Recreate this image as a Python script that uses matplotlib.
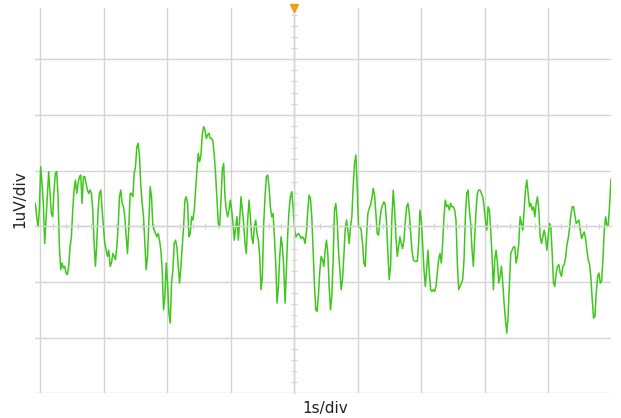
import matplotlib

matplotlib.use("Agg")
import matplotlib.pyplot as plt
import numpy as np
from matplotlib.ticker import MultipleLocator

# scope trace (uV), one sample every ~21 ms
seg_1 = [0.41, 0.17, -0.01, 0.29, 1.07, 0.77, 0.41, -0.31, 0.11, 0.53, 0.98, 0.59,
         0.23, 0.17, 0.65, 0.95, 0.98, 0.53, -0.37, -0.78, -0.66, -0.75, -0.72, -0.84,
         -0.87, -0.72, -0.37, -0.19, 0.29, 0.65, 0.83, 0.59, 0.77, 0.89, 0.92, 0.41,
         0.89, 0.89, 0.77, 0.65, 0.59, 0.65, 0.59, 0.29, -0.31, -0.72, -0.31, 0.29,
         0.59, 0.65, 0.29, -0.01, -0.31, -0.43, -0.54, -0.43, -0.72, -0.66, -0.49, -0.54,
         -0.60, -0.37, -0.01, 0.53, 0.65, 0.41, 0.35, 0.17, -0.19, -0.49, -0.01, 0.59]
seg_2 = [0.59, 0.53, 0.95, 1.07, 1.43, 1.49, 1.25, 0.71, 0.41, 0.17, -0.31, -0.78,
         -0.54, 0.11, 0.71, 0.53, -0.01, -0.07, -0.13, -0.19, -0.13, -0.25, -0.43, -0.78,
         -1.50, -1.26, -0.66, -1.02, -1.56, -1.74, -1.02, -0.78, -0.31, -0.25, -0.37, -0.72,
         -1.02, -0.72, -0.37, -0.01, 0.47, 0.53, 0.41, -0.19, -0.13, 0.17, 0.11, 0.29,
         0.65, 1.01, 1.31, 1.16, 1.28, 1.64, 1.79, 1.73, 1.58, 1.64, 1.67, 1.58,
         1.58, 1.52, 1.28, 0.92, 0.47, 0.05, -0.01, 0.47, 1.01, 1.13, 0.53]
seg_3 = [0.29, 0.17, 0.29, 0.47, 0.29, 0.05, -0.25, -0.01, 0.17, -0.25, 0.11, 0.53,
         0.29, 0.05, -0.31, -0.49, 0.11, 0.47, 0.17, -0.19, -0.31, -0.01, 0.11, -0.13,
         -0.25, -0.54, -1.14, -0.90, 0.05, 0.53, 0.89, 0.92, 0.71, 0.35, 0.17, 0.23,
         -0.19, -0.66, -1.38, -1.08, -0.54, -0.19, -0.37, -0.72, -1.38, -0.78, -0.13, 0.29,
         0.53, 0.62, 0.35, -0.01, -0.19, -0.16, -0.13, -0.16, -0.22, -0.19, -0.22, -0.31,
         -0.10, 0.29, 0.56, 0.50, 0.17, -0.43, -1.05, -1.50, -1.53, -1.23, -0.81, -0.54]
seg_4 = [-0.60, -0.72, -0.43, -0.25, -0.49, -1.08, -1.50, -1.26, -0.60, 0.29, 0.41, 0.11,
         -0.43, -0.78, -1.14, -0.96, -0.54, -0.07, 0.11, -0.07, -0.31, -0.01, 0.17, 0.71,
         1.13, 1.28, 0.71, -0.01, -0.01, -0.07, -0.31, -0.66, -0.72, -0.19, 0.23, 0.32,
         0.38, 0.50, 0.68, 0.56, 0.23, -0.13, -0.16, 0.11, 0.29, 0.38, 0.44, 0.38,
         0.05, -0.49, -0.96, -0.72, 0.17, 0.65, 0.29, -0.19, -0.54, -0.37, -0.19, -0.31,
         -0.40, -0.25, 0.08, 0.35, 0.41, 0.23, -0.10, -0.43, -0.60, -0.63, -0.63, -0.63]
seg_5 = [-0.31, 0.29, 0.11, -0.31, -0.78, -1.08, -0.78, -0.43, -0.84, -1.14, -1.17, -1.14,
         -1.17, -1.08, -0.84, -0.60, -0.49, -0.66, -0.31, 0.17, 0.47, 0.35, 0.38, 0.29,
         0.41, 0.35, 0.35, 0.29, 0.11, -0.66, -1.14, -1.08, -1.02, -0.96, -0.60, 0.17,
         0.59, 0.65, 0.29, 0.05, -0.43, -0.72, -0.19, 0.29, 0.59, 0.65, 0.65, 0.59,
         0.53, 0.35, 0.11, -0.07, 0.35, 0.29, -0.07, -0.54, -1.14, -0.60, -0.43, -0.66,
         -1.02, -0.90, -0.72, -1.02, -1.38, -1.68, -1.92, -1.62, -1.02, -0.49, -0.43, -0.37]
seg_6 = [-0.37, -0.66, -0.54, -0.31, 0.17, 0.05, -0.07, 0.29, 0.65, 0.83, 0.59, 0.35,
         0.41, 0.29, 0.35, 0.17, 0.41, 0.53, 0.29, -0.19, -0.31, -0.19, -0.07, -0.19,
         -0.43, -0.19, 0.05, -0.01, -0.49, -1.02, -1.08, -0.84, -0.72, -0.69, -0.84, -0.90,
         -0.72, -0.69, -0.57, -0.34, -0.22, -0.04, 0.20, 0.35, 0.35, 0.20, 0.05, 0.08,
         0.11, -0.07, -0.22, -0.16, -0.10, -0.22, -0.43, -0.60, -0.69, -0.93, -1.32, -1.65,
         -1.62, -1.20, -0.90, -0.84, -1.02, -0.99, -0.60, -0.07, 0.17, 0.02, 0.02, 0.38,
         0.83]

T_START = -4.075  # s, first sample
T_STEP = 0.02103  # s per sample

GRID_COLOR = "#d4d4d4"
TRACE_COLOR = "#3fc81c"


def main() -> None:
    trace = np.array(seg_1 + seg_2 + seg_3 + seg_4 + seg_5 + seg_6)
    t = T_START + T_STEP * np.arange(len(trace))

    fig = plt.figure(figsize=(6.21, 4.18), dpi=100)
    ax = fig.add_axes([0.0564, 0.0591, 0.9275, 0.9218])

    ax.set_xlim(-4.08, 4.99)
    ax.set_ylim(-3.0, 3.92)

    ax.xaxis.set_major_locator(MultipleLocator(1))
    ax.yaxis.set_major_locator(MultipleLocator(1))
    ax.xaxis.set_minor_locator(MultipleLocator(0.2))
    ax.yaxis.set_minor_locator(MultipleLocator(0.2))
    ax.grid(True, which="major", color=GRID_COLOR, linewidth=1.0)
    ax.set_axisbelow(True)

    # center cross with small ticks, like the scope graticule
    for side in ("top", "right"):
        ax.spines[side].set_visible(False)
    ax.spines["left"].set_position(("data", 0))
    ax.spines["bottom"].set_position(("data", 0))
    for side in ("left", "bottom"):
        ax.spines[side].set_color(GRID_COLOR)
        ax.spines[side].set_linewidth(1.0)
    ax.tick_params(which="both", direction="inout", color=GRID_COLOR,
                   labelleft=False, labelbottom=False)
    ax.tick_params(which="major", length=0)
    ax.tick_params(which="minor", length=4, width=0.8)

    ax.plot(t, trace, color=TRACE_COLOR, linewidth=1.1)

    # trigger marker at the top
    ax.plot([0], [3.92], marker="v", color="#f39c1f", markersize=6,
            clip_on=False, zorder=5)

    fig.text(0.032, 0.523, "1uV/div", rotation=90, ha="center", va="center",
             fontsize=11, color="#222222")
    fig.text(0.523, 0.022, "1s/div", ha="center", va="center",
             fontsize=11, color="#222222")

    fig.savefig("out.png", dpi=100)
    plt.close(fig)


if __name__ == "__main__":
    main()
